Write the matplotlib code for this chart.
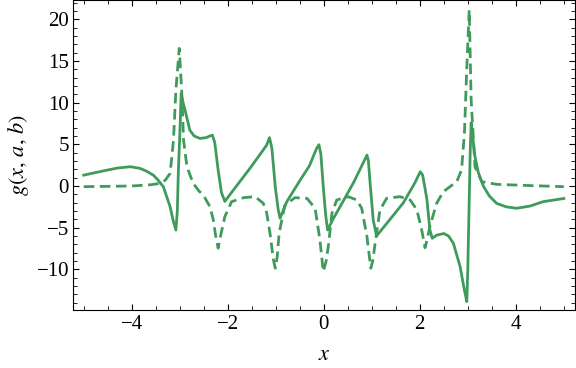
import numpy as np
import matplotlib
matplotlib.use("Agg")
import matplotlib.pyplot as plt
from matplotlib.ticker import MultipleLocator

# solid curve
x_solid = [-5.0, -4.6, -4.3, -4.03, -3.83, -3.7, -3.55, -3.45, -3.34, -3.2,
           -3.13, -3.08, -3.05, -3.03, -2.99, -2.97, -2.93, -2.89, -2.79, -2.7,
           -2.58, -2.45, -2.37, -2.32, -2.27, -2.2, -2.13, -2.06, -1.95, -1.54,
           -1.3, -1.19, -1.13, -1.08, -1.01, -0.95, -0.91, -0.77, -0.49, -0.3,
           -0.15, -0.1, -0.06, -0.01, 0.04, 0.08, 0.2, 0.34, 0.62, 0.79,
           0.9, 0.93, 0.96, 1.03, 1.1, 1.31, 1.66, 1.9, 2.01, 2.06,
           2.11, 2.15, 2.21, 2.26, 2.35, 2.5, 2.6, 2.7, 2.84, 2.93,
           2.98, 3.0, 3.03, 3.05, 3.07, 3.1, 3.15, 3.22, 3.33, 3.45,
           3.6, 3.8, 4.02, 4.3, 4.57, 5.0]
y_solid = [1.3, 1.8, 2.15, 2.31, 2.12, 1.8, 1.3, 0.7, -0.1, -2.5,
           -4.3, -5.27, -3.0, 1.5, 7.5, 11.1, 10.0, 9.1, 6.7, 6.0,
           5.7, 5.8, 6.0, 6.1, 5.2, 1.9, -0.8, -1.85, -1.0, 2.1,
           4.0, 4.9, 5.8, 4.5, -0.1, -2.8, -3.87, -1.88, 0.72, 2.4,
           4.5, 4.95, 3.8, -0.1, -3.5, -5.27, -3.9, -2.48, 0.4, 2.4,
           3.71, 3.0, 0.72, -4.07, -5.99, -4.5, -2.0, 0.4, 1.71, 1.3,
           -0.3, -1.68, -5.27, -6.27, -5.9, -5.7, -6.0, -6.87, -9.66, -12.5,
           -13.86, -10.0, -1.68, 4.0, 7.58, 6.0, 3.51, 1.6, -0.08, -1.2,
           -2.08, -2.5, -2.67, -2.4, -1.88, -1.5]

# dashed curve
x_dash = [-5.0, -4.0, -3.6, -3.41, -3.3, -3.2, -3.13, -3.08, -3.01, -2.96,
          -2.92, -2.85, -2.72, -2.6, -2.51, -2.37, -2.3, -2.26, -2.2, -2.15,
          -2.06, -1.92, -1.67, -1.43, -1.26, -1.19, -1.12, -1.05, -1.01, -0.97,
          -0.93, -0.81, -0.6, -0.35, -0.18, -0.08, -0.01, 0.05, 0.1, 0.17,
          0.27, 0.51, 0.69, 0.79, 0.9, 0.98, 1.02, 1.07, 1.17, 1.31,
          1.59, 1.8, 1.94, 2.04, 2.11, 2.15, 2.21, 2.35, 2.49, 2.77,
          2.87, 2.93, 2.98, 3.03, 3.07, 3.15, 3.29, 3.6, 4.3, 5.0]
y_dash = [-0.08, 0.0, 0.15, 0.32, 0.7, 1.52, 5.5, 11.5, 16.5, 11.5,
          5.5, 2.3, 0.32, -0.6, -1.08, -2.48, -4.07, -5.67, -7.46, -6.0,
          -3.67, -1.88, -1.4, -1.28, -2.07, -3.2, -5.67, -8.8, -9.86, -8.5,
          -5.67, -2.28, -1.4, -1.48, -2.67, -6.47, -10.26, -9.0, -7.0, -3.27,
          -1.68, -1.28, -1.68, -2.67, -6.07, -9.86, -9.0, -6.87, -2.87, -1.48,
          -1.28, -1.68, -2.87, -5.27, -7.4, -6.5, -4.87, -2.08, -0.68, 0.52,
          1.92, 6.31, 14.3, 21.1, 10.3, 2.31, 0.52, 0.2, 0.05, -0.08]

green = '#3f9b5c'

plt.rcParams['mathtext.fontset'] = 'stix'
plt.rcParams['font.family'] = 'Liberation Serif'

fig = plt.figure(figsize=(5.76, 3.68), dpi=100)
ax = fig.add_axes([0.127, 0.158, 0.871, 0.842])

ax.plot(x_solid, y_solid, color=green, lw=2.0, solid_joinstyle='round')
ax.plot(x_dash, y_dash, color=green, lw=2.0, dashes=(3.8, 2.0))

ax.set_xlim(-5.22, 5.23)
ax.set_ylim(-14.85, 22.3)

ax.xaxis.set_major_locator(MultipleLocator(2))
ax.xaxis.set_minor_locator(MultipleLocator(0.5))
ax.yaxis.set_major_locator(MultipleLocator(5))
ax.yaxis.set_minor_locator(MultipleLocator(1))
ax.tick_params(which='both', direction='in', top=True, right=True, labelsize=15)
ax.tick_params(which='major', length=4.5, width=0.8)
ax.tick_params(which='minor', length=3, width=0.6)
ax.tick_params(axis='x', pad=4)
ax.tick_params(axis='y', pad=3)
ax.set_xticks([-4, -2, 0, 2, 4])
ax.set_xticklabels(['\u22124', '\u22122', '0', '2', '4'])
ax.set_yticks([-10, -5, 0, 5, 10, 15, 20])
ax.set_yticklabels(['\u221210', '\u22125', '0', '5', '10', '15', '20'])

ax.set_xlabel('$x$', fontsize=16, labelpad=8)
ax.set_ylabel('$g(x,\\,a,\\,b)$', fontsize=16, labelpad=4)

fig.savefig('out.png', dpi=100)
